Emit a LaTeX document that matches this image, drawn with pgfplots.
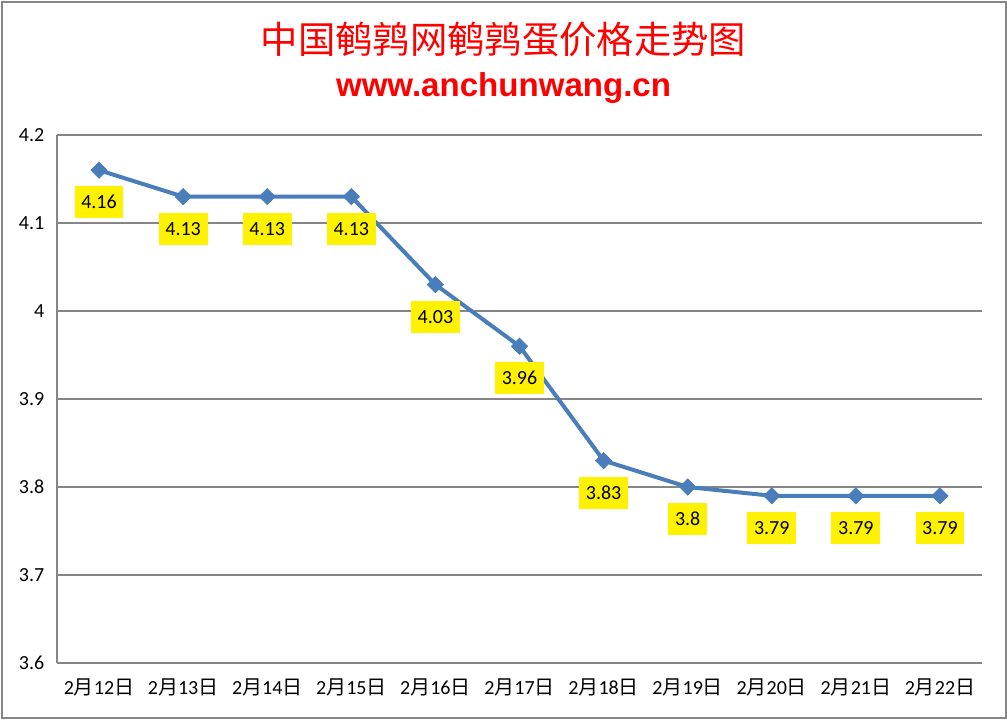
\documentclass[border=0pt]{standalone}
\usepackage{fontspec}
\setmainfont{Carlito}
\newfontfamily\cjk{Noto Sans CJK SC}
\newfontfamily\arialb{Liberation Sans}
\usepackage{pgfplots}
\pgfplotsset{compat=1.18}
\definecolor{gridgray}{HTML}{868686}
\definecolor{lineblue}{HTML}{4A7EBB}
\newcommand\md[1]{2{\cjk 月}#1{\cjk 日}}
\begin{document}
\begin{tikzpicture}
\useasboundingbox (-42.75pt,-42pt) rectangle (712.5pt,497.25pt);
\draw[gridgray, line width=1.5pt] (-41.6pt,-40.9pt) rectangle (711.4pt,496.1pt);
\begin{axis}[
  at={(0,0)}, anchor=south west,
  scale only axis,
  width=693.75pt, height=396pt,
  xmin=-0.5, xmax=10.5,
  ymin=3.6, ymax=4.2,
  axis x line=bottom, axis y line=left,
  axis line style={gridgray, line width=1.2pt, -},
  ytick={3.6,3.7,3.8,3.9,4.0,4.1,4.2},
  yticklabels={3.6,3.7,3.8,3.9,4,4.1,4.2},
  xtick={0,...,10},
  xticklabels={\md{12},\md{13},\md{14},\md{15},\md{16},\md{17},\md{18},\md{19},\md{20},\md{21},\md{22}},
  major tick length=0pt,
  ymajorgrids,
  grid style={gridgray, line width=1.2pt},
  tick label style={font=\fontsize{15}{17}\selectfont, text=black},
  yticklabel style={xshift=-6pt},
  xticklabel style={yshift=-8pt},
  clip=false,
]
\addplot[lineblue, line width=3pt, mark=square*, mark size=4.3pt,
  mark options={fill=lineblue, draw=lineblue, line width=0.5pt, rotate=45},
  point meta=explicit symbolic,
  nodes near coords,
  nodes near coords style={anchor=center, yshift=-24pt, fill=yellow, text=black,
    inner xsep=5pt, minimum height=24pt, font=\fontsize{15}{17}\selectfont}]
coordinates {
(0,4.16)[4.16]
(1,4.13)[4.13]
(2,4.13)[4.13]
(3,4.13)[4.13]
(4,4.03)[4.03]
(5,3.96)[3.96]
(6,3.83)[3.83]
(7,3.80)[3.8]
(8,3.79)[3.79]
(9,3.79)[3.79]
(10,3.79)[3.79]
};
\end{axis}
\node[text=red, font=\cjk\fontsize{28}{32}\selectfont] at (334.9pt,467.25pt) {中国鹌鹑网鹌鹑蛋价格走势图};
\node[text=red, font=\arialb\bfseries\fontsize{24.8}{28}\selectfont] at (334.9pt,431.25pt) {www.anchunwang.cn};
\end{tikzpicture}
\end{document}
